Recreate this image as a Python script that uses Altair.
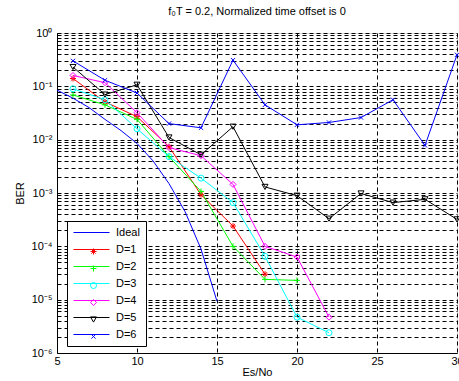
import altair as alt
import pandas as pd

series_names = ["Ideal", "D=1", "D=2", "D=3", "D=4", "D=5", "D=6"]
marker_keys = ["m0", "m1", "m2", "m3", "m4", "m5", "m6"]
series_colors = ["#0000ff", "#ff0000", "#00ff00", "#00ffff", "#ff00ff", "#000000", "#0000ff"]
series_shapes = [
    "M0,0",
    "M-1,0L1,0M0,-1L0,1M-0.7,-0.7L0.7,0.7M-0.7,0.7L0.7,-0.7",
    "M-1,0L1,0M0,-1L0,1",
    "circle",
    "diamond",
    "triangle-down",
    "M-0.7,-0.7L0.7,0.7M-0.7,0.7L0.7,-0.7",
]

x_ideal = [5, 6, 7, 8, 9, 10, 11, 12, 13, 14, 15]
ber_ideal = [0.085, 0.060, 0.040, 0.024, 0.0148, 0.0085, 0.0040, 0.0015, 0.00045, 0.000089, 0.0000093]

x_d1 = [6, 8, 10, 12, 14, 16, 18]
ber_d1 = [0.14, 0.051, 0.027, 0.0074, 0.00093, 0.00024, 0.000030]

x_d2 = [6, 8, 10, 12, 14, 16, 18, 20]
ber_d2 = [0.069, 0.045, 0.024, 0.0048, 0.00107, 0.00010, 0.000024, 0.000023]

x_d3 = [6, 8, 10, 12, 14, 16, 18, 20, 22]
ber_d3 = [0.090, 0.056, 0.016, 0.0048, 0.0019, 0.00066, 0.000065, 0.0000047, 0.0000024]

x_d4 = [6, 8, 10, 12, 14, 16, 18, 20, 22]
ber_d4 = [0.16, 0.117, 0.032, 0.0071, 0.0050, 0.00145, 0.00010, 0.000063, 0.0000047]

x_d5 = [6, 8, 10, 12, 14, 16, 18, 20, 22, 24, 26, 28, 30]
ber_d5 = [0.23, 0.070, 0.107, 0.011, 0.0052, 0.0175, 0.0013, 0.00089, 0.00033, 0.00098, 0.00066, 0.00076, 0.00032]

x_d6 = [6, 8, 10, 12, 14, 16, 18, 20, 22, 24, 26, 28, 30]
ber_d6 = [0.30, 0.13, 0.075, 0.020, 0.0167, 0.31, 0.045, 0.019, 0.021, 0.026, 0.056, 0.0078, 0.39]

x_ticks = [5, 10, 15, 20, 25, 30]
y_grid = [m * 10.0 ** k for k in range(-6, 0) for m in range(1, 10)] + [1.0]
decade_labels = ["10⁰", "10⁻¹", "10⁻²", "10⁻³", "10⁻⁴", "10⁻⁵", "10⁻⁶"]

all_x = [x_ideal, x_d1, x_d2, x_d3, x_d4, x_d5, x_d6]
all_y = [ber_ideal, ber_d1, ber_d2, ber_d3, ber_d4, ber_d5, ber_d6]

rows = []
for name, key, xs, ys in zip(series_names, marker_keys, all_x, all_y):
    for i, (xv, yv) in enumerate(zip(xs, ys)):
        rows.append({"series": name, "marker": key, "esno": xv, "ber": yv, "idx": i})
df = pd.DataFrame(rows)
df_pts = df[df.series != "Ideal"]

FONT = "Liberation Sans"


def js_list(items):
    return "[" + ",".join("'" + s + "'" for s in items) + "]"


x_enc = alt.X(
    "esno:Q",
    scale=alt.Scale(domain=[5, 30], nice=False, zero=False),
    axis=alt.Axis(
        values=x_ticks, title="Es/No", grid=True, gridDash=[4, 3], gridColor="black",
        gridOpacity=1, gridWidth=1, ticks=False, labelFlush=False, labelPadding=2,
        labelFontSize=11, labelFont=FONT, labelColor="black", titleFont=FONT,
        titleFontSize=11, titleFontWeight="normal", titleColor="black", titlePadding=0,
        domainColor="black", labelOverlap=False,
    ),
)
y_enc = alt.Y(
    "ber:Q",
    scale=alt.Scale(type="log", domain=[1e-6, 1], nice=False),
    axis=alt.Axis(
        values=y_grid, title="BER", grid=True, gridDash=[4, 3], gridColor="black",
        gridOpacity=1, gridWidth=1, ticks=False, labelFlush=False, labelPadding=5,
        labelExpr="abs(log(datum.value)/LN10 - round(log(datum.value)/LN10)) > 0.01 ? '' : "
        + js_list(decade_labels)
        + "[-round(log(datum.value)/LN10)]",
        labelFontSize=11, labelFont=FONT, labelColor="black", labelOverlap=False,
        titleFont=FONT, titleFontSize=11, titleFontWeight="normal", titleColor="black",
        titlePadding=6, domainColor="black",
    ),
)

common_legend = dict(
    title=None, orient="none", legendX=10, labelFontSize=11, labelFont=FONT,
    rowPadding=5, padding=6, labelLimit=0,
)

lines = alt.Chart(df).mark_line(strokeWidth=1).encode(
    x=x_enc,
    y=y_enc,
    order="idx:Q",
    stroke=alt.Stroke(
        "series:N",
        scale=alt.Scale(domain=series_names, range=series_colors),
        legend=alt.Legend(
            legendY=188, symbolType="M-3.6,0L3.6,0", symbolSize=100, symbolStrokeWidth=1,
            symbolOffset=13, labelOffset=19, labelColor="black", strokeColor="black",
            fillColor="white", zindex=1, **common_legend,
        ),
    ),
)

marker_legend = alt.Legend(
    legendY=190, symbolSize=36, symbolStrokeWidth=1, symbolOffset=15, labelOffset=17,
    labelOpacity=0, labelExpr="' '", zindex=2, symbolFillColor="transparent", **common_legend,
)
points = alt.Chart(df_pts).mark_point(filled=False, size=36, strokeWidth=1, opacity=1).encode(
    x=x_enc,
    y=y_enc,
    color=alt.Color("marker:N", scale=alt.Scale(domain=marker_keys, range=series_colors),
                    legend=marker_legend),
    shape=alt.Shape("marker:N", scale=alt.Scale(domain=marker_keys, range=series_shapes),
                    legend=marker_legend),
)

chart = (
    alt.layer(lines, points)
    .properties(
        width=400,
        height=320,
        autosize=alt.AutoSizeParams(type="none"),
        padding={"left": 57, "top": 33, "right": 2, "bottom": 28},
        title=alt.TitleParams(
            text="f₀T = 0.2, Normalized time offset is 0", fontSize=11, fontWeight="normal",
            font=FONT, color="black", offset=10,
        ),
    )
    .configure_view(stroke="black", strokeWidth=1)
    .configure(background="white")
)

chart.save("out.html", embed_options={"renderer": "svg", "actions": False})
